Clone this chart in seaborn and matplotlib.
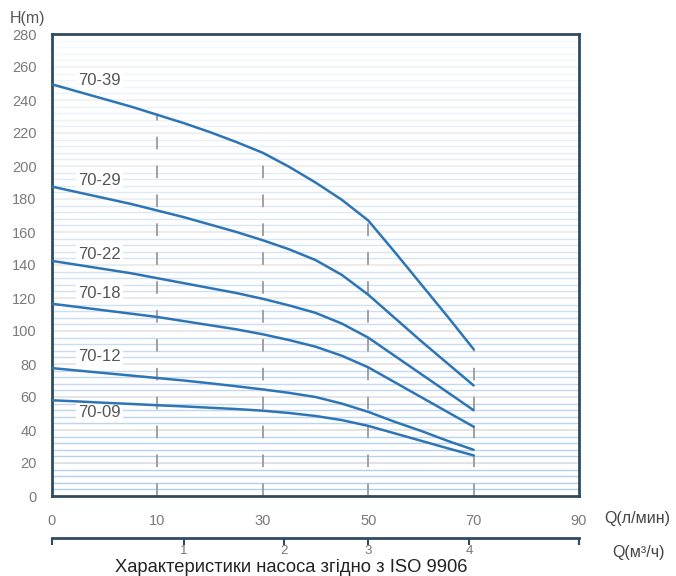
import numpy as np
import pandas as pd
import matplotlib
matplotlib.use("Agg")
import matplotlib.pyplot as plt
import seaborn as sns

# --- datos ---
q_lmin_labels = ["0", "10", "30", "50", "70", "90"]
q_pos = [0, 0.25, 0.5, 0.75, 1, 1.25, 1.5, 1.75, 2, 2.25, 2.5, 2.75, 3, 3.25, 3.5, 3.75, 4]

h_70_39 = [249.5, 245, 240.5, 236, 231, 226, 220.5, 214.5, 208, 199.5, 190, 179.5, 167, 148, 128.5, 109, 89]
h_70_29 = [187.5, 184, 180.5, 177, 173, 169, 164.5, 160, 155, 149.5, 143, 134, 122, 108, 94, 80.5, 67]
h_70_22 = [142.5, 140, 137.5, 135, 132, 129, 126, 123, 119.5, 115.5, 111, 104.5, 96, 85, 74, 63, 52]
h_70_18 = [116.5, 114.5, 112.5, 110.5, 108.5, 106, 103.5, 101, 98, 94.5, 90.5, 85, 78, 69, 60, 51, 42]
h_70_12 = [77.5, 76, 74.5, 73, 71.5, 70, 68.3, 66.5, 64.6, 62.5, 60, 56, 51, 45, 39.5, 33.5, 28]
h_70_09 = [58, 57.3, 56.5, 55.8, 55, 54.3, 53.5, 52.7, 51.7, 50.3, 48.5, 46, 42.5, 38, 33.5, 29, 24.6]

modelos = ["70-39", "70-29", "70-22", "70-18", "70-12", "70-09"]
curvas = [h_70_39, h_70_29, h_70_22, h_70_18, h_70_12, h_70_09]
etiqueta_y = [252, 191, 146.5, 122.5, 84.5, 50.5]

m3h_labels = ["1", "2", "3", "4"]
m3h_pos = [1.25, 2.2, 3.0, 3.96]

# tabla larga para seaborn
df = pd.DataFrame(
    [(m, q, h) for m, hs in zip(modelos, curvas) for q, h in zip(q_pos, hs)],
    columns=["modelo", "q", "h"],
)

sns.set_theme(style="white")
plt.rcParams["font.family"] = ["Liberation Sans", "DejaVu Sans"]

fig = plt.figure(figsize=(6.76, 5.76), dpi=100)
ax = fig.add_axes([52 / 676, 80 / 576, 527 / 676, 462 / 576])

# rejilla: menores azules cada 4, mayores grises cada 20, desvaneciendo hacia arriba
for v in np.arange(4, 280, 4):
    frac = 1 - v / 280
    if v % 20 == 0:
        ax.axhline(v, color="#d9d9d9", lw=1.1, alpha=0.35 + 0.65 * frac, zorder=0)
    else:
        ax.axhline(v, color="#a9c9ea", lw=1.0, alpha=0.1 + 0.8 * frac, zorder=0)

# lineas verticales discontinuas hasta la curva superior
ax.vlines([1, 2, 3, 4], 0, [h_70_39[4], h_70_39[8], h_70_39[12], h_70_39[16]],
          colors="#9a9a9a", linestyles=(0, (7, 9)), lw=1.3, zorder=1)

sns.lineplot(data=df, x="q", y="h", units="modelo", estimator=None,
             color="#2e75b6", lw=1.8, ax=ax, zorder=3, legend=False)

for m, yy in zip(modelos, etiqueta_y):
    ax.text(0.45, yy, m, ha="center", va="center", fontsize=12, color="#555555",
            bbox=dict(facecolor="white", edgecolor="none", pad=1.5), zorder=2)

ax.set_xlim(0, 5)
ax.set_ylim(0, 280)
ax.set_yticks(np.arange(0, 281, 20))
ax.set_xticks(range(6))
ax.set_xticklabels(q_lmin_labels)
ax.tick_params(axis="both", length=0, labelsize=10.5, colors="#7a7a7a")
ax.tick_params(axis="y", pad=11)
ax.tick_params(axis="x", pad=13)
ax.set_xlabel("")
ax.set_ylabel("")
for s in ax.spines.values():
    s.set_color("#2f4b61")
    s.set_linewidth(2.0)

# eje secundario m3/h
ax2 = ax.secondary_xaxis(-42 / 462)
ax2.set_xticks([0] + m3h_pos + [5])
ax2.set_xticklabels([""] + m3h_labels + [""])
ax2.tick_params(axis="x", direction="out", length=5, width=1.5, color="#2f4b61",
                labelsize=9.5, labelcolor="#777777", pad=0)
ax2.spines["bottom"].set_color("#2f4b61")
ax2.spines["bottom"].set_linewidth(2.0)

fig.text(10 / 676, 1 - 18 / 576, "H(m)", fontsize=11.5, color="#555555", va="center")
fig.text(604 / 676, 1 - 519 / 576, "Q(л/мин)", fontsize=11.5, color="#444444", va="center")
fig.text(612 / 676, 1 - 552 / 576, "Q(м³/ч)", fontsize=11.5, color="#444444", va="center")
fig.text(291 / 676, 1 - 567 / 576, "Характеристики насоса згідно з ISO 9906",
         fontsize=13.2, color="#222222", ha="center", va="center")

plt.savefig("out.png", dpi=100)
plt.close()
